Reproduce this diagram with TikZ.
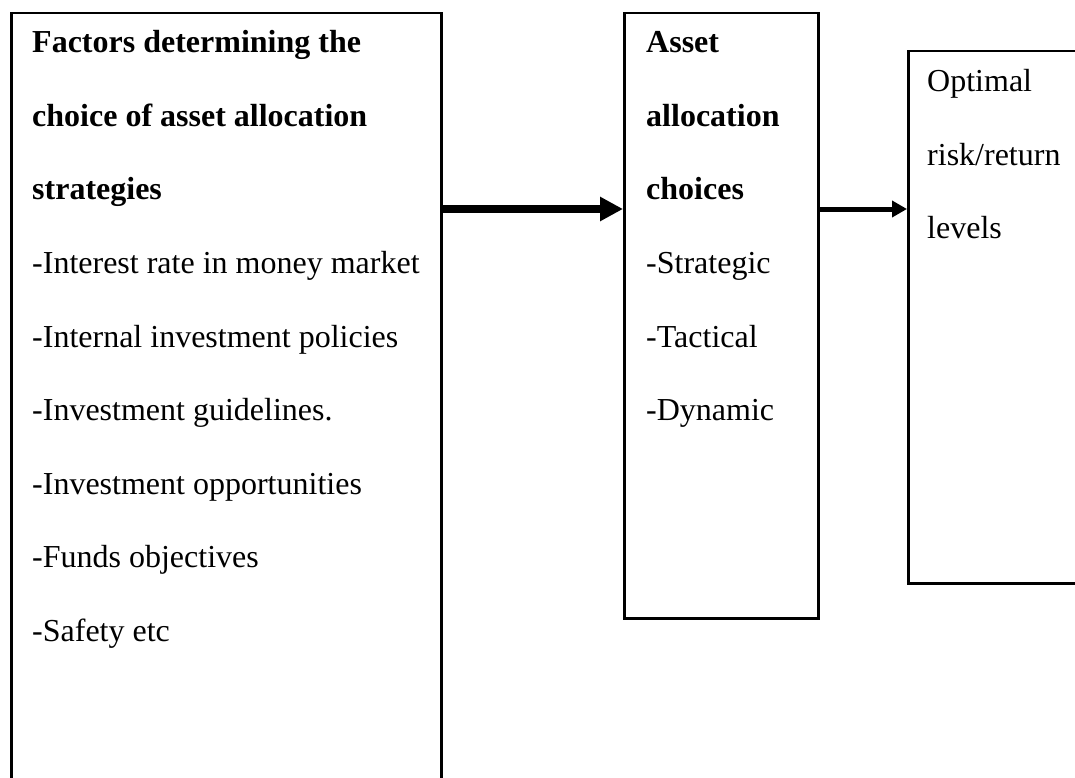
\documentclass[tikz,border=0pt]{standalone}
\usepackage{fontspec}
\setmainfont{Liberation Serif}
\usetikzlibrary{arrows.meta}
\begin{document}
\begin{tikzpicture}[x=1pt,y=-1pt,
  panel/.style={draw=black, line width=2.5pt, anchor=north west, inner sep=0pt},
  txt/.style={anchor=base west, inner sep=0pt, font=\fontsize{32}{38}\selectfont},
  headtxt/.style={anchor=base west, inner sep=0pt, font=\fontsize{32}{38}\selectfont\bfseries},
  bigflow/.style={line width=8pt, -{Triangle[length=23pt,width=23pt]}},
  smallflow/.style={line width=5pt, -{Triangle[length=15pt,width=16pt]}}]
\useasboundingbox (0,0) rectangle (1075,778);
\clip (0,0) rectangle (1075,778);

% the three boxes (the first and last run past the page edge)
\node[panel, minimum width=430pt, minimum height=900pt] (factors) at (10,12) {};
\node[panel, minimum width=194pt, minimum height=605pt] (choices) at (623,12) {};
\node[panel, minimum width=200pt, minimum height=532pt] (optimal) at (907,50) {};

% factors box
\foreach \t [count=\i] in {Factors determining the, choice of asset allocation, strategies}
  \node[headtxt] (fh\i) at (32,{53+73.5*(\i-1)}) {\t};
\foreach \t [count=\i] in {-Interest rate in money market, -Internal investment policies,
    -Investment guidelines., -Investment opportunities, -Funds objectives, -Safety etc}
  \node[txt] (fi\i) at (32,{273.5+73.5*(\i-1)}) {\t};

% choices box
\foreach \t [count=\i] in {Asset, allocation, choices}
  \node[headtxt] (ch\i) at (646,{53+73.5*(\i-1)}) {\t};
\foreach \t [count=\i] in {-Strategic, -Tactical, -Dynamic}
  \node[txt] (ci\i) at (646,{273.5+73.5*(\i-1)}) {\t};

% outcome box
\foreach \t [count=\i] in {Optimal, risk/return, levels}
  \node[txt] (oi\i) at (927,{92+73*(\i-1)}) {\t};

% connectors
\coordinate (flowlevel) at (0,209);
\draw[bigflow] (factors.east |- flowlevel) -- (choices.west |- flowlevel);
\draw[smallflow] (choices.east |- flowlevel) -- (optimal.west |- flowlevel);
\end{tikzpicture}
\end{document}
